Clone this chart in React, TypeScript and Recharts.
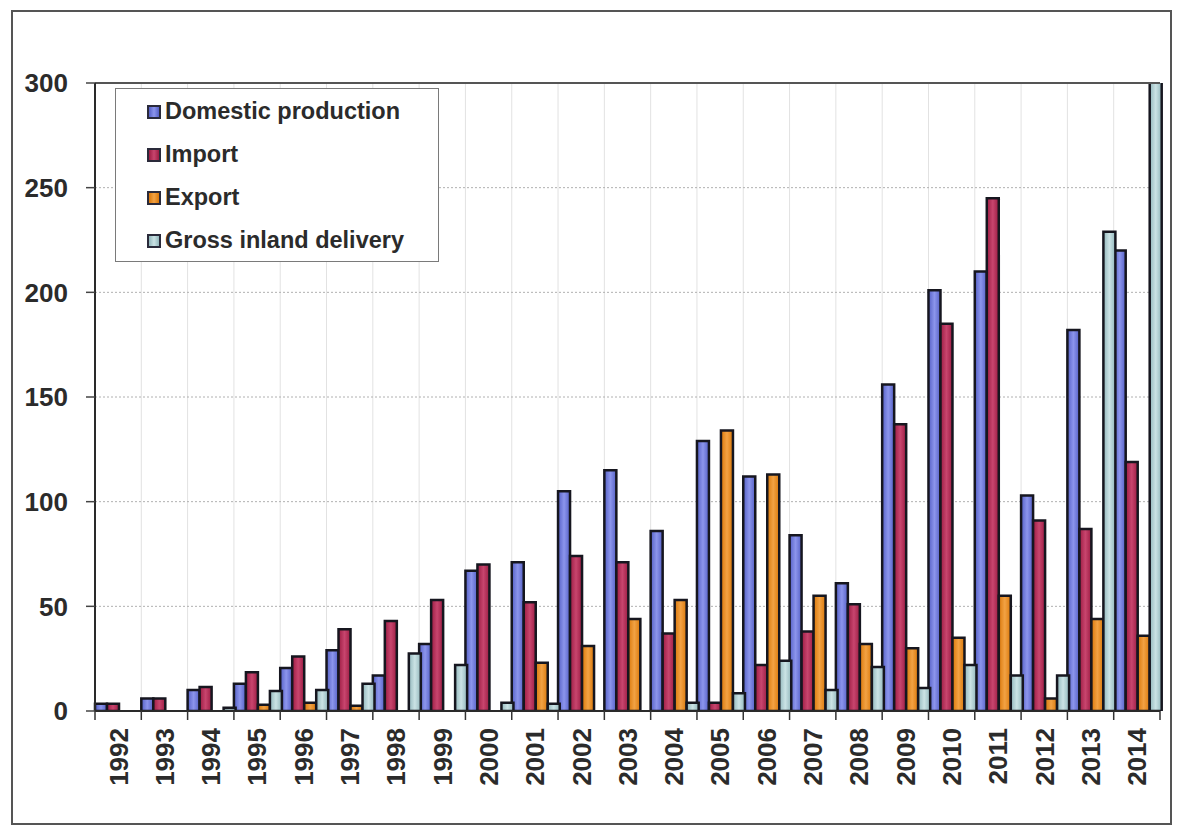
import React from "react";
import {
  BarChart,
  Bar,
  XAxis,
  YAxis,
  CartesianGrid,
  Legend,
  ReferenceLine,
} from "recharts";

// Years on the category axis
const years = [
  "1992", "1993", "1994", "1995", "1996", "1997", "1998", "1999", "2000",
  "2001", "2002", "2003", "2004", "2005", "2006", "2007", "2008", "2009",
  "2010", "2011", "2012", "2013", "2014",
];

const domestic = [
  3.5, 6, 10, 13, 20.5, 29, 17, 32, 67, 71, 105, 115, 86, 129, 112, 84, 61,
  156, 201, 210, 103, 182, 220,
];
const imports = [
  3.5, 6, 11.5, 18.5, 26, 39, 43, 53, 70, 52, 74, 71, 37, 4, 22, 38, 51, 137,
  185, 245, 91, 87, 119,
];
const exports = [
  0, 0, 0, 3, 4, 2.5, 0, 0, 0, 23, 31, 44, 53, 134, 113, 55, 32, 30, 35, 55,
  6, 44, 36,
];
const grossInland = [
  0, 0, 1.5, 9.5, 10, 13, 27.5, 22, 4, 3.5, 0, 0, 4, 8.5, 24, 10, 21, 11, 22,
  17, 17, 229, 305,
];

const yTicks = [0, 50, 100, 150, 200, 250, 300];

const series = [
  { key: "domestic", name: "Domestic production", edge: "#5560c6", mid: "#8c95ec" },
  { key: "imports", name: "Import", edge: "#9c1c43", mid: "#c8456e" },
  { key: "exports", name: "Export", edge: "#da780a", mid: "#f2a244" },
  { key: "gross", name: "Gross inland delivery", edge: "#92b7bc", mid: "#cbe3e5" },
];

const data = years.map((year, i) => ({
  year,
  domestic: domestic[i],
  imports: imports[i],
  exports: exports[i],
  gross: grossInland[i],
}));

const FONT = "'Liberation Sans', Arial, Helvetica, sans-serif";
const TEXT = "#2b2b2b";

const YearTick = (props: any) => {
  const { x, y, payload, index } = props;
  const half = payload.offset ?? 0;
  const last = index === years.length - 1;
  return (
    <g>
      <line x1={x - half} x2={x - half} y1={y} y2={y + 9} stroke="#333" strokeWidth={1.5} />
      {last && (
        <line x1={x + half} x2={x + half} y1={y} y2={y + 9} stroke="#333" strokeWidth={1.5} />
      )}
      <text
        x={x}
        y={y + 17}
        transform={`rotate(-90, ${x}, ${y + 17})`}
        textAnchor="end"
        dy="0.36em"
        fontFamily={FONT}
        fontWeight="bold"
        fontSize={26}
        fill={TEXT}
      >
        {payload.value}
      </text>
    </g>
  );
};

const LegendBox = () => (
  <div
    style={{
      width: 324,
      height: 174,
      border: "1.5px solid #7a7a7a",
      background: "#fff",
      boxSizing: "border-box",
      paddingTop: 1,
    }}
  >
    {series.map((s) => (
      <div
        key={s.key}
        style={{
          display: "flex",
          alignItems: "center",
          height: 43,
          paddingLeft: 31,
        }}
      >
        <span
          style={{
            display: "inline-block",
            width: 10,
            height: 10,
            border: "2px solid #2a2a3a",
            background: `linear-gradient(90deg, ${s.edge}, ${s.mid}, ${s.edge})`,
            marginRight: 4,
          }}
        />
        <span
          style={{
            fontFamily: FONT,
            fontWeight: "bold",
            fontSize: 23.5,
            color: TEXT,
            lineHeight: 1,
          }}
        >
          {s.name}
        </span>
      </div>
    ))}
  </div>
);

export default function App() {
  return (
    <div
      style={{
        position: "absolute",
        left: 0,
        top: 0,
        width: 1179,
        height: 830,
        background: "#fff",
      }}
    >
      <div
        style={{
          position: "absolute",
          left: 11,
          top: 10,
          width: 1161,
          height: 815,
          border: "2px solid #555",
          boxSizing: "border-box",
        }}
      />
      <BarChart
        width={1179}
        height={830}
        data={data}
        margin={{ top: 83, right: 19, left: 0, bottom: 0 }}
        barCategoryGap={0}
        barGap={0}
      >
        <defs>
          {series.map((s) => (
            <linearGradient key={s.key} id={`fill-${s.key}`} x1="0" y1="0" x2="1" y2="0">
              <stop offset="0%" stopColor={s.edge} />
              <stop offset="50%" stopColor={s.mid} />
              <stop offset="100%" stopColor={s.edge} />
            </linearGradient>
          ))}
        </defs>
        <CartesianGrid
          horizontal={false}
          stroke="#e2e2e2"
          verticalCoordinatesGenerator={({ offset }: any) =>
            years.slice(1).map((_, i) => offset.left + ((i + 1) * offset.width) / years.length)
          }
        />
        <CartesianGrid
          vertical={false}
          stroke="#b0b0b0"
          strokeDasharray="2 2"
        />
        <ReferenceLine y={300} stroke="#555" strokeWidth={2} ifOverflow="extendDomain" />
        <XAxis
          dataKey="year"
          height={119}
          interval={0}
          tickLine={false}
          tickSize={0}
          tickMargin={0}
          axisLine={{ stroke: "#2a2a2a", strokeWidth: 2 }}
          tick={<YearTick />}
        />
        <YAxis
          width={95}
          domain={[0, 300]}
          ticks={yTicks}
          allowDataOverflow
          tickSize={9}
          tickMargin={18}
          axisLine={{ stroke: "#2a2a2a", strokeWidth: 2 }}
          tickLine={{ stroke: "#444", strokeWidth: 1.5 }}
          tick={{ fontFamily: FONT, fontWeight: "bold", fontSize: 26, fill: TEXT }}
        />
        <Legend
          layout="horizontal"
          verticalAlign="middle"
          align="center"
          content={<LegendBox />}
          wrapperStyle={{ position: "absolute", left: 115, top: 88, width: 324, height: 174 }}
        />
        {series.map((s) => (
          <Bar
            key={s.key}
            dataKey={s.key}
            name={s.name}
            fill={`url(#fill-${s.key})`}
            stroke="#16161f"
            strokeWidth={2.5}
            isAnimationActive={false}
          />
        ))}
      </BarChart>
    </div>
  );
}
